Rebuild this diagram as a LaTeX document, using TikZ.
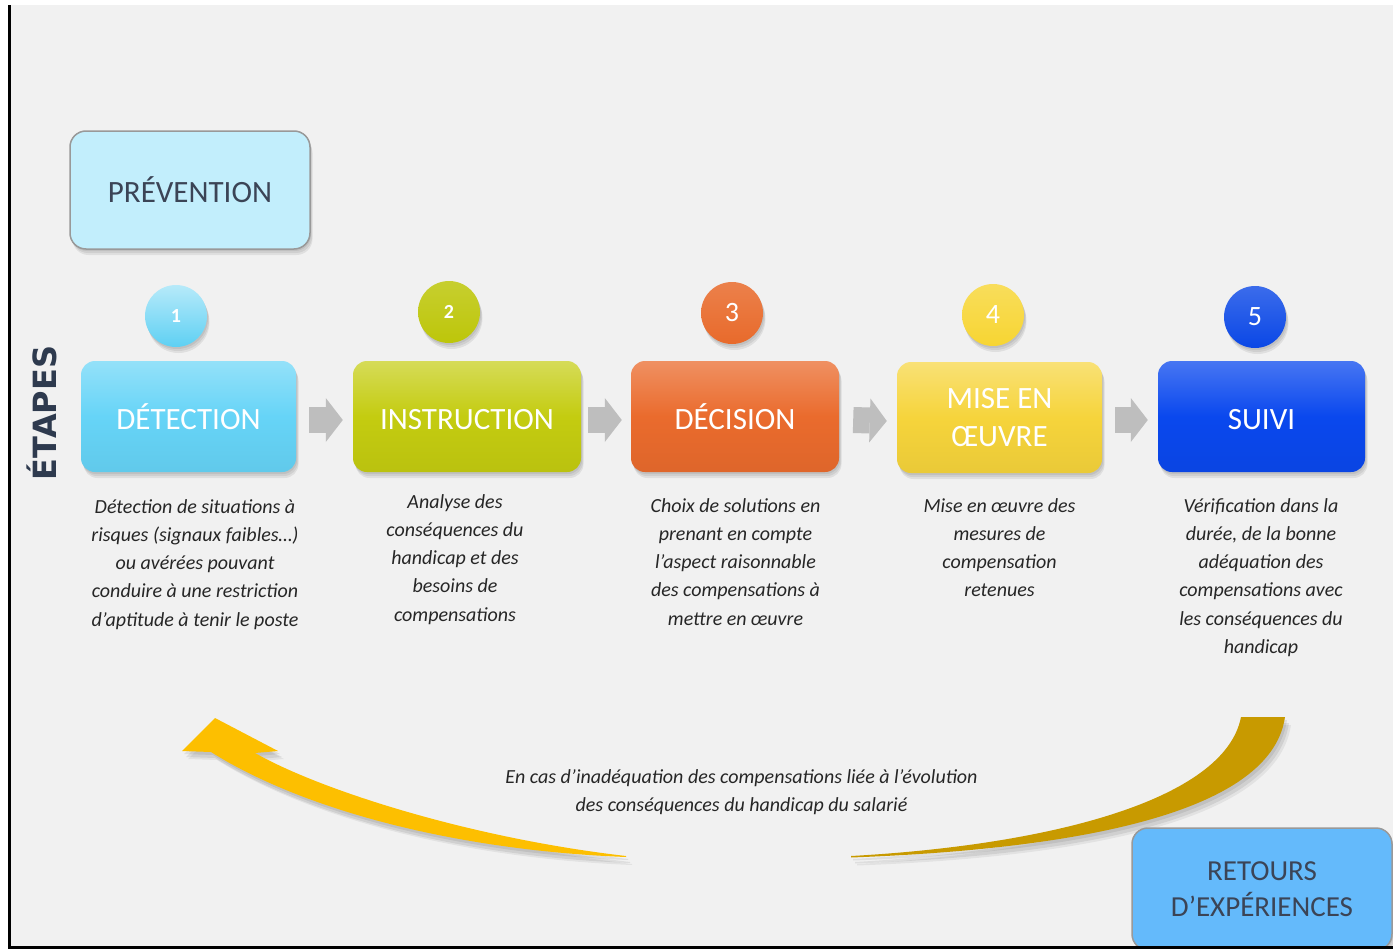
\documentclass[tikz,border=0pt]{standalone}
\usepackage{fontspec}
\setmainfont{Carlito}
\newfontfamily\dvs{DejaVu Sans}
\usetikzlibrary{shadows,arrows.meta,calc}
\definecolor{bgc}{HTML}{F1F1F1}
\definecolor{cA}{HTML}{66D4F7}
\definecolor{cB}{HTML}{C4CC10}
\definecolor{cC}{HTML}{EA6B2D}
\definecolor{cD}{HTML}{F6D43B}
\definecolor{cE}{HTML}{0A48EE}
\definecolor{kA}{HTML}{5ED0F3}
\definecolor{kB}{HTML}{BDC60A}
\definecolor{kC}{HTML}{E86A2B}
\definecolor{kD}{HTML}{F7D532}
\definecolor{kE}{HTML}{0A47E6}
\definecolor{prevfill}{HTML}{C2EEFC}
\definecolor{retfill}{HTML}{64BAFB}
\definecolor{textdark}{HTML}{3B4456}
\definecolor{etapescol}{HTML}{2E3A4E}
\definecolor{goldA}{HTML}{FDBF00}
\definecolor{goldB}{HTML}{C89A00}
\definecolor{arrowgray}{HTML}{BEBEBE}
\definecolor{desccol}{HTML}{262626}
\begin{document}
\begin{tikzpicture}[x=1pt,y=-1pt,
  softshadow/.style={
    general shadow={fill=black,opacity=.07,shadow xshift=1pt,shadow yshift=-2pt},
    general shadow={fill=black,opacity=.07,shadow xshift=2pt,shadow yshift=-4pt},
    general shadow={fill=black,opacity=.07,shadow xshift=2.5pt,shadow yshift=-6pt}},
  stepbox/.style={rectangle,rounded corners=14pt,minimum height=111pt,inner sep=0pt,
    text=white,align=center,font=\fontsize{31}{38}\selectfont,softshadow},
  numball/.style={circle,minimum size=62pt,inner sep=0pt,text=white,softshadow},
  desc/.style={anchor=north,align=center,text=desccol,inner sep=0pt,
    font=\itshape\fontsize{20}{28.3}\selectfont},
  labelbox/.style={rectangle,rounded corners=16pt,inner sep=0pt,align=center,
    text=textdark,draw=black!40,line width=1.5pt,softshadow},
  steparrow/.style={line width=26pt,draw=arrowgray,
    -{Triangle[length=17pt,width=44pt,line width=0pt,fill=arrowgray]}},
  curveshadow/.style={
    general shadow={fill=black,opacity=.08,shadow xshift=2pt,shadow yshift=-3pt},
    general shadow={fill=black,opacity=.08,shadow xshift=4pt,shadow yshift=-6pt},
    general shadow={fill=black,opacity=.06,shadow xshift=6pt,shadow yshift=-8pt}}
]
\useasboundingbox (0,0) rectangle (1393,950);
\fill[white] (0,0) rectangle (1393,950);
\fill[bgc] (10,5) rectangle (1393,946);

\begin{scope}
\clip (10,5) rectangle (1393,946);

% prevention
\node[labelbox,fill=prevfill,minimum width=240pt,minimum height=118pt,
  font=\fontsize{31}{36}\selectfont] (prev) at (190,190) {PRÉVENTION};

% label ETAPES
\node[rotate=90,font=\dvs\bfseries\fontsize{32}{32}\selectfont,text=etapescol,inner sep=0pt] (etapes) at (42,413) {ÉTAPES};

% step boxes
\node[stepbox,minimum width=215pt,top color=cA!70!white,bottom color=cA!95!black,middle color=cA] (b1) at (188.5,416.5) {DÉTECTION};
\node[stepbox,minimum width=228pt,top color=cB!70!white,bottom color=cB!95!black,middle color=cB] (b2) at (467,416.5) {\vphantom{É}INSTRUCTION};
\node[stepbox,minimum width=208pt,top color=cC!75!white,bottom color=cC!95!black,middle color=cC] (b3) at (735,416.5) {DÉCISION};
\node[stepbox,minimum width=205pt,top color=cD!70!white,bottom color=cD!95!black,middle color=cD] (b4) at (999.5,417.5) {MISE EN\\ŒUVRE};
\node[stepbox,minimum width=207pt,top color=cE!75!white,bottom color=cE!95!black,middle color=cE] (b5) at (1261.5,416.5) {\vphantom{É}SUIVI};

% number balls
\node[numball,top color=kA!45!white,bottom color=kA,font=\bfseries\fontsize{20}{20}\selectfont] (n1) at (176,316) {1};
\node[numball,top color=kB!85!white,bottom color=kB,font=\bfseries\fontsize{20}{20}\selectfont] (n2) at (449,312) {2};
\node[numball,top color=kC!85!white,bottom color=kC,font=\fontsize{28}{28}\selectfont] (n3) at (732,313) {3};
\node[numball,top color=kD!80!white,bottom color=kD,font=\fontsize{28}{28}\selectfont] (n4) at (993,315) {4};
\node[numball,top color=kE!80!white,bottom color=kE,font=\fontsize{28}{28}\selectfont] (n5) at (1255,317) {5};

% step arrows
\draw[steparrow] ($(b1.east)+(13,3.5)$) -- ($(b2.west)+(-10,3.5)$);
\draw[steparrow] ($(b2.east)+(7,3.5)$) -- ($(b3.west)+(-9,3.5)$);
\draw[steparrow] ($(b3.east)+(14,3.5)$) -- ($(b4.west)+(-10,3.5)$);
\draw[steparrow] ($(b4.east)+(13,2.5)$) -- ($(b5.west)+(-10,3.5)$);

% descriptions
\node[desc] (d1) at (195,499) {Détection de situations à\\risques (signaux faibles…)\\ou avérées pouvant\\conduire à une restriction\\d’aptitude à tenir le poste};
\node[desc] (d2) at (455,494) {Analyse des\\conséquences du\\handicap et des\\besoins de\\compensations};
\node[desc] (d3) at (735.5,498) {Choix de solutions en\\prenant en compte\\l’aspect raisonnable\\des compensations à\\mettre en œuvre};
\node[desc] (d4) at (999.5,498) {Mise en œuvre des\\mesures de\\compensation\\retenues};
\node[desc] (d5) at (1261,498) {Vérification dans la\\durée, de la bonne\\adéquation des\\compensations avec\\les conséquences du\\handicap};

% curved arrows
\fill[goldA,curveshadow] (626,857) .. controls (450,850) and (300,808) .. (211,752)
  -- (182,751) -- (215,718) -- (278,751) -- (255,753)
  .. controls (320,790) and (470,838) .. (626,856) -- cycle;
\fill[goldB,curveshadow] (851,856) .. controls (1050,845) and (1225,800) .. (1241,717)
  -- (1285,717) .. controls (1270,820) and (1050,850) .. (851,857.5) -- cycle;

% note
\node[desc] (note) at (741.5,769) {En cas d’inadéquation des compensations liée à l’évolution\\des conséquences du handicap du salarié};

% retours
\node[labelbox,fill=retfill,minimum width=260pt,minimum height=122pt,
  font=\fontsize{29}{36}\selectfont] (ret) at (1262,889) {RETOURS\\D’EXPÉRIENCES};
\end{scope}

\fill[black] (8,5) rectangle (10.5,949);
\fill[black] (8,946) rectangle (1393,949);
\end{tikzpicture}
\end{document}
